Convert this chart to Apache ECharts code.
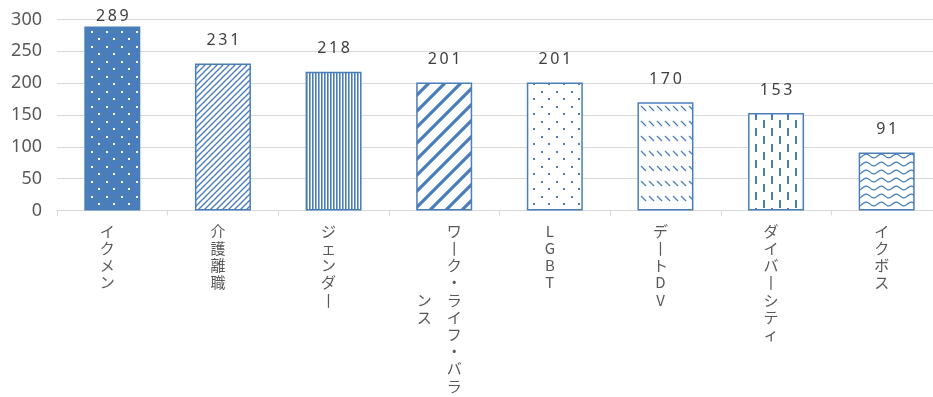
<!DOCTYPE html>
<html>
<head>
<meta charset="utf-8">
<script src="https://cdn.jsdelivr.net/npm/echarts@6/dist/echarts.min.js"></script>
<style>
  html, body { margin: 0; padding: 0; background: #ffffff; }
  #chart { width: 933px; height: 397px; }
</style>
</head>
<body>
<div id="chart"></div>
<script>
// ---- data ----
const categories = ['イクメン', '介護離職', 'ジェンダー', 'ワーク・ライフ・バランス', 'LGBT', 'デートDV', 'ダイバーシティ', 'イクボス'];
const values = [289, 231, 218, 201, 201, 170, 153, 91];
const yTicks = [0, 50, 100, 150, 200, 250, 300];

// ---- patterns ----
const BLUE = '#4a7ebb';
function tile(w, h, bg, draw) {
  const c = document.createElement('canvas');
  c.width = w; c.height = h;
  const g = c.getContext('2d');
  g.fillStyle = bg; g.fillRect(0, 0, w, h);
  g.fillStyle = BLUE; g.strokeStyle = BLUE;
  draw(g);
  return { image: c, repeat: 'repeat' };
}
const patterns = [
  // white dots on solid blue
  tile(15, 15, BLUE, g => { g.fillStyle = '#ffffff'; g.fillRect(1, 1, 2, 2); g.fillRect(8, 8, 2, 2); }),
  // fine upward diagonal
  tile(6, 6, '#ffffff', g => { g.lineWidth = 1.4; g.beginPath(); g.moveTo(-1, 7); g.lineTo(7, -1); g.moveTo(-7, 7); g.lineTo(1, -1); g.moveTo(5, 7); g.lineTo(13, -1); g.stroke(); }),
  // narrow vertical
  tile(3, 4, '#ffffff', g => { g.fillRect(0, 0, 1, 4); g.globalAlpha = 0.6; g.fillRect(1, 0, 1, 4); }),
  // wide upward diagonal
  tile(16, 16, '#ffffff', g => { g.lineWidth = 3.2; g.beginPath(); g.moveTo(-2, 18); g.lineTo(18, -2); g.moveTo(-4, 4); g.lineTo(4, -4); g.moveTo(12, 20); g.lineTo(20, 12); g.stroke(); }),
  // sparse dots
  tile(15, 15, '#ffffff', g => { g.fillRect(1, 1, 2, 2); g.fillRect(8, 8, 2, 2); }),
  // dashed downward diagonal
  tile(8, 15, '#ffffff', g => { g.lineWidth = 1.3; g.beginPath(); g.moveTo(1, 1); g.lineTo(6, 6); g.stroke(); }),
  // dashed vertical
  tile(16, 16, '#ffffff', g => { g.fillRect(3, 0, 2, 8); g.fillRect(11, 8, 2, 8); }),
  // wave
  tile(15, 8, '#ffffff', g => {
    g.lineWidth = 1.3; g.beginPath();
    for (let x = 0; x <= 15; x += 0.5) {
      const y = 4 + 1.8 * Math.sin(x / 15 * Math.PI * 2);
      if (x === 0) g.moveTo(x, y); else g.lineTo(x, y);
    }
    g.stroke();
  })
];

// vertical (tategaki) label: top-to-bottom, columns right-to-left
function verticalize(s) {
  const chars = Array.from(s).map(c => c === 'ー' ? '丨' : c);
  const maxRows = 10;
  if (chars.length <= maxRows) return chars.join('\n');
  const cols = [];
  for (let i = 0; i < chars.length; i += maxRows) cols.push(chars.slice(i, i + maxRows));
  const padded = cols.map(c => {
    const off = Math.floor((maxRows - c.length) / 2);
    const arr = Array(maxRows).fill('　');
    c.forEach((ch, k) => { arr[off + k] = ch; });
    return arr;
  });
  const lines = [];
  for (let r = 0; r < maxRows; r++) {
    lines.push(padded.slice().reverse().map(col => col[r]).join('　'));
  }
  return lines.join('\n');
}

const chart = echarts.init(document.getElementById('chart'), null, { renderer: 'canvas' });
chart.setOption({
  animation: false,
  backgroundColor: '#ffffff',
  grid: { left: 57, width: 885, top: 19.5, bottom: 186.5, containLabel: false, outerBoundsMode: 'none' },
  xAxis: {
    type: 'category',
    data: categories,
    axisLine: { show: true, lineStyle: { color: '#d9d9d9', width: 1 } },
    axisTick: { show: true, length: 5, lineStyle: { color: '#d9d9d9' } },
    axisLabel: {
      interval: 0,
      margin: 12,
      color: '#595959',
      fontFamily: '"Noto Sans CJK JP", sans-serif',
      fontSize: 15,
      lineHeight: 17.2,
      align: 'center',
      verticalAlign: 'top',
      padding: [0, 10, 0, 0],
      formatter: v => verticalize(v)
    }
  },
  yAxis: {
    type: 'value',
    min: yTicks[0],
    max: yTicks[yTicks.length - 1],
    interval: yTicks[1] - yTicks[0],
    axisLine: { show: false },
    axisTick: { show: false },
    splitLine: { lineStyle: { color: '#d9d9d9', width: 1 } },
    axisLabel: {
      margin: 15,
      color: '#595959',
      fontFamily: '"Noto Sans", sans-serif',
      fontSize: 18
    }
  },
  series: [{
    type: 'bar',
    barWidth: 56,
    data: values.map((v, i) => {
      const item = { value: v, itemStyle: { color: patterns[i] } };
      if (v > 270) item.label = { distance: 2 };
      return item;
    }),
    itemStyle: { borderColor: BLUE, borderWidth: 1.5 },
    label: {
      show: true,
      position: 'top',
      distance: 15,
      color: '#404040',
      fontFamily: '"Noto Sans", sans-serif',
      fontSize: 16,
      formatter: p => String(p.value).split('').join('\u2009')
    }
  }]
});
</script>
</body>
</html>
